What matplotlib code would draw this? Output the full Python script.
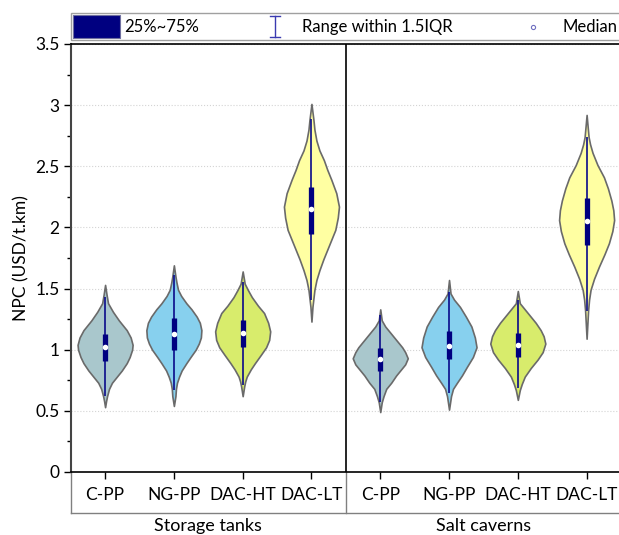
import matplotlib
matplotlib.use("Agg")
import matplotlib.pyplot as plt
import matplotlib.patches as patches
from matplotlib.lines import Line2D
import numpy as np

plt.rcParams['font.family'] = ['Lato', 'DejaVu Sans']
plt.rcParams['font.size'] = 12.5

# ---- data ----
categories = ['C-PP', 'NG-PP', 'DAC-HT', 'DAC-LT']
groups = ['Storage tanks', 'Salt caverns']
colors = ['#a9c7cc', '#87d0ee', '#d8ec6c', '#ffffa2']

# box stats per violin: q1, median, q3, lower whisker, upper whisker
q1 = [0.91, 1.00, 1.02, 1.95, 0.83, 0.92, 0.94, 1.86]
median = [1.02, 1.13, 1.14, 2.15, 0.92, 1.03, 1.04, 2.05]
q3 = [1.13, 1.26, 1.24, 2.33, 1.01, 1.15, 1.14, 2.24]
wlo = [0.62, 0.67, 0.71, 1.41, 0.57, 0.65, 0.69, 1.32]
whi = [1.43, 1.61, 1.55, 2.89, 1.28, 1.47, 1.41, 2.74]

# density profile (value level, relative half width) per violin
prof_y = [
    [0.53, 0.58, 0.62, 0.68, 0.73, 0.78, 0.83, 0.89, 0.94, 1.0, 1.04, 1.1, 1.16, 1.2, 1.24, 1.31, 1.38, 1.45, 1.53],
    [0.54, 0.62, 0.68, 0.73, 0.78, 0.83, 0.89, 0.94, 1.0, 1.05, 1.1, 1.16, 1.22, 1.27, 1.33, 1.38, 1.44, 1.49, 1.55, 1.6, 1.69],
    [0.62, 0.70, 0.74, 0.78, 0.84, 0.89, 0.96, 1.02, 1.08, 1.15, 1.22, 1.30, 1.36, 1.43, 1.49, 1.54, 1.64],
    [1.23, 1.35, 1.42, 1.49, 1.57, 1.65, 1.74, 1.82, 1.9, 1.98, 2.08, 2.17, 2.28, 2.39, 2.47, 2.55, 2.63, 2.71, 2.8, 2.88, 3.01],
    [0.49, 0.57, 0.62, 0.68, 0.73, 0.79, 0.84, 0.88, 0.93, 0.98, 1.02, 1.08, 1.13, 1.19, 1.24, 1.33],
    [0.51, 0.62, 0.68, 0.73, 0.79, 0.86, 0.94, 1.02, 1.1, 1.19, 1.27, 1.35, 1.41, 1.46, 1.57],
    [0.59, 0.67, 0.72, 0.78, 0.85, 0.92, 0.98, 1.05, 1.11, 1.16, 1.22, 1.27, 1.33, 1.38, 1.48],
    [1.09, 1.32, 1.41, 1.49, 1.58, 1.68, 1.78, 1.87, 1.97, 2.06, 2.14, 2.22, 2.32, 2.41, 2.51, 2.61, 2.68, 2.74, 2.92],
]
prof_w = [
    [0, 1, 2, 4, 7, 12, 17, 22, 25, 27.5, 28, 26, 22, 18, 14, 8, 3, 1.5, 0],
    [0, 1.5, 2, 3, 5, 7.5, 12, 16, 21, 24, 26, 26.5, 25, 22, 17, 12, 7, 4, 2.5, 1.5, 0],
    [0, 1.5, 2.5, 4, 8, 12, 18, 23, 26, 27, 25, 21, 15, 9, 5, 2, 0],
    [0, 1, 2, 3, 5, 8, 12, 16, 20, 24, 26.5, 27.7, 25, 20, 16, 12.5, 8, 5, 3, 2, 0],
    [0, 1.5, 3.3, 6, 11, 16, 21, 25, 27.6, 25, 22, 16, 11, 5, 1.5, 0],
    [0, 2, 4, 8, 13, 18, 24, 27.7, 26, 22.5, 17, 11, 5, 1.5, 0],
    [0, 2, 4, 7, 13, 20, 25, 27.7, 26, 23, 18, 13, 7, 2, 0],
    [0, 1.5, 2.5, 4, 7.5, 12.5, 18, 22.5, 26, 27.8, 27, 25, 21.5, 17.5, 11, 6, 3.5, 2, 0],
]

W, H = 619, 535


def fx(px):
    return px / W


def fy(py):
    return 1 - py / H


fig = plt.figure(figsize=(W / 100, H / 100), dpi=100)
ax = fig.add_axes([fx(70.7), fy(472), fx(621) - fx(70.7), fy(44) - fy(472)])

positions = list(range(8))
stats = []
for i in range(8):
    stats.append({'coords': np.array(prof_y[i]), 'vals': np.array(prof_w[i]),
                  'mean': median[i], 'median': median[i],
                  'min': prof_y[i][0], 'max': prof_y[i][-1], 'quantiles': []})

vp = ax.violin(stats, positions=positions, widths=0.8,
               showmeans=False, showextrema=False, showmedians=False)
for i, body in enumerate(vp['bodies']):
    body.set_facecolor(colors[i % 4])
    body.set_edgecolor('#6a6a6a')
    body.set_linewidth(1.2)
    body.set_alpha(1)
    body.set_zorder(2)

ax.vlines(positions, wlo, whi, color='#0a0a8a', lw=1.2, zorder=3)
ax.vlines(positions, q1, q3, color='#000080', lw=3.8, zorder=4)
ax.plot(positions, median, 'o', color='white', ms=4, mec='none', zorder=5)

ax.axvline(3.5, color='black', lw=1.2, zorder=1)

ax.set_xlim(-0.5, 7.5)
ax.set_ylim(0, 3.5)
ax.set_yticks(np.arange(0, 3.51, 0.5))
ax.set_yticklabels(['0', '0.5', '1', '1.5', '2', '2.5', '3', '3.5'])
ax.set_yticks(np.arange(0.25, 3.5, 0.5), minor=True)
ax.set_xticks(positions)
ax.set_xticklabels(categories * 2)
ax.tick_params(axis='y', which='major', length=5, width=1, direction='out', pad=3)
ax.tick_params(axis='y', which='minor', length=3, width=1, direction='out')
ax.tick_params(axis='x', which='major', length=5, width=1, direction='out', pad=5.5)
ax.yaxis.grid(True, linestyle=':', color='#d4d4d4', linewidth=0.8)
ax.set_axisbelow(True)

ax.spines['right'].set_visible(False)
ax.spines['left'].set_color('#444444')
ax.spines['left'].set_linewidth(1.5)
ax.spines['top'].set_linewidth(1.2)
ax.spines['bottom'].set_linewidth(1.2)

ax.set_ylabel('NPC (USD/t.km)', labelpad=4)

# category box below the axis
tr = ax.get_xaxis_transform()
yb = -(513 - 472) / (472 - 44)
ax.plot([-0.5, 7.5], [yb, yb], color='#808080', lw=1, transform=tr, clip_on=False)
for xv in [-0.5, 3.5]:
    ax.plot([xv, xv], [0, yb], color='#808080', lw=1, transform=tr, clip_on=False)
yg = -(526 - 472) / (472 - 44)
ax.text(1.5, yg, groups[0], transform=tr, ha='center', va='center', fontsize=13)
ax.text(5.5, yg, groups[1], transform=tr, ha='center', va='center', fontsize=13)

# legend bar on top
fig.patches.append(patches.Rectangle((fx(71), fy(40)), fx(630) - fx(71), fy(13) - fy(40),
                                     transform=fig.transFigure, fill=False,
                                     edgecolor='#a0a0a0', lw=1))
fig.patches.append(patches.Rectangle((fx(73), fy(38)), fx(120) - fx(73), fy(15) - fy(38),
                                     transform=fig.transFigure, facecolor='#000080',
                                     edgecolor='#7070a0', lw=0.8))
fig.text(fx(124), fy(27), '25%~75%', va='center', ha='left', fontsize=12)
ib = '#3a3ab0'
fig.lines.append(Line2D([fx(275), fx(275)], [fy(16), fy(37)], transform=fig.transFigure, color=ib, lw=1))
fig.lines.append(Line2D([fx(270), fx(280)], [fy(16), fy(16)], transform=fig.transFigure, color=ib, lw=1))
fig.lines.append(Line2D([fx(270), fx(280)], [fy(37), fy(37)], transform=fig.transFigure, color=ib, lw=1))
fig.text(fx(302), fy(27), 'Range within 1.5IQR', va='center', ha='left', fontsize=12)
fig.lines.append(Line2D([fx(533)], [fy(27)], transform=fig.transFigure, marker='o', ms=3,
                        mfc='white', mec='#7070c0', mew=0.8, ls='none'))
fig.text(fx(562), fy(27), 'Median', va='center', ha='left', fontsize=12)

fig.savefig('out.png', dpi=100)
